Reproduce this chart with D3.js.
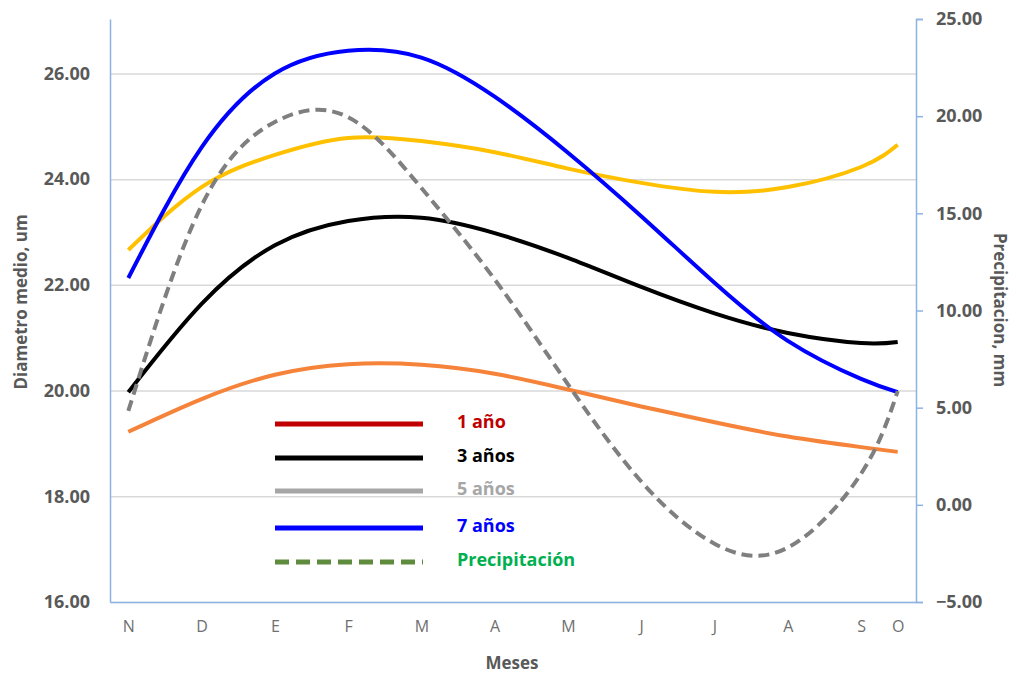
<!DOCTYPE html>
<html>
<head>
<meta charset="utf-8">
<script src="https://cdn.jsdelivr.net/npm/d3@7/dist/d3.min.js"></script>
<style>
  body { margin: 0; background: #fff; }
  svg { display: block; }
  text { font-family: "Open Sans", Lato, sans-serif; }
</style>
</head>
<body>
<svg id="chart" width="1016" height="675"></svg>
<script>
// months (x position of each label; last one sits half a step after S)
var months = ["N","D","E","F","M","A","M","J","J","A","S","O"];
var monthX = [0,1,2,3,4,5,6,7,8,9,10,10.5];

// diametro medio, um (left axis)
var uno   = [19.22,19.84,20.30,20.50,20.49,20.32,20.02,19.70,19.40,19.13,18.93,18.84];
var tres  = [19.97,21.64,22.75,23.21,23.27,22.98,22.51,21.96,21.46,21.09,20.90,20.92];
var cinco = [22.66,23.85,24.46,24.78,24.72,24.51,24.20,23.93,23.76,23.85,24.23,24.65];
var siete = [22.13,24.60,26.00,26.43,26.30,25.56,24.50,23.30,22.04,20.94,20.22,19.97];
// precipitacion, mm (right axis)
var precip = [4.83,15.4,19.7,19.95,16.3,11.6,6.2,1.2,-2.0,-2.2,1.6,5.85];

var leftTicks = [16,18,20,22,24,26];
var rightTicks = [-5,0,5,10,15,20,25];

var svg = d3.select("#chart");
var pLeft = 110, pRight = 916, pTop = 19, pBottom = 602;
var axisColor = "#8DB3E2", labelColor = "#595959";

var x = d3.scaleLinear().domain([-0.25, 10.75]).range([pLeft, pRight]);
var yL = d3.scaleLinear().domain([16, 27.03]).range([pBottom, pTop]);
var yR = d3.scaleLinear().domain([-5, 25]).range([pBottom, pTop]);

// gridlines
svg.append("g")
    .attr("transform", "translate(" + pLeft + ",0)")
    .call(d3.axisLeft(yL).tickValues(leftTicks).tickSize(-(pRight-pLeft)).tickFormat(""))
    .call(function(g){
      g.select(".domain").remove();
      g.selectAll("line").attr("stroke","#D9D9D9").attr("stroke-width",1.5);
    });

// left axis
var gl = svg.append("g")
    .attr("transform", "translate(" + pLeft + ",0)")
    .call(d3.axisLeft(yL).tickValues(leftTicks).tickSize(0).tickPadding(20).tickFormat(d3.format(".2f")));
gl.select(".domain").attr("stroke", axisColor).attr("stroke-width", 1.5);
gl.selectAll("text").attr("fill", labelColor).attr("font-size", 18).attr("font-weight", "bold");

// right axis
var gr = svg.append("g")
    .attr("transform", "translate(" + pRight + ",0)")
    .call(d3.axisRight(yR).tickValues(rightTicks).tickSizeOuter(0).tickSize(7).tickPadding(13).tickFormat(d3.format(".2f")));
gr.select(".domain").attr("stroke", axisColor).attr("stroke-width", 1.5);
gr.selectAll("line").attr("stroke", axisColor).attr("stroke-width", 1.5);
gr.selectAll("text").attr("fill", labelColor).attr("font-size", 18).attr("font-weight", "bold");

// bottom axis
var gb = svg.append("g")
    .attr("transform", "translate(0," + pBottom + ")")
    .call(d3.axisBottom(x).tickValues(monthX).tickSize(0).tickPadding(19)
      .tickFormat(function(d, i){ return months[i]; }));
gb.select(".domain").attr("stroke", axisColor).attr("stroke-width", 1.5);
gb.selectAll("text").attr("fill", "#6f6f6f").attr("font-size", 16);

// data lines
var lineL = d3.line().x(function(d, i){ return x(monthX[i]); }).y(function(d){ return yL(d); })
    .curve(d3.curveNatural);
var lineR = d3.line().x(function(d, i){ return x(monthX[i]); }).y(function(d){ return yR(d); })
    .curve(d3.curveNatural);

svg.append("path").attr("d", lineL(uno)).attr("fill","none").attr("stroke","#F5833A").attr("stroke-width",4);
svg.append("path").attr("d", lineL(tres)).attr("fill","none").attr("stroke","#000").attr("stroke-width",4);
svg.append("path").attr("d", lineL(cinco)).attr("fill","none").attr("stroke","#FFC000").attr("stroke-width",4);
svg.append("path").attr("d", lineL(siete)).attr("fill","none").attr("stroke","#0000FF").attr("stroke-width",4);
svg.append("path").attr("d", lineR(precip)).attr("fill","none").attr("stroke","#7F7F7F").attr("stroke-width",4)
    .attr("stroke-dasharray","11,6");

// legend
var legend = [
  {name:"1 año", line:"#C00000", text:"#C00000", dash:null},
  {name:"3 años", line:"#000000", text:"#000000", dash:null},
  {name:"5 años", line:"#A6A6A6", text:"#A6A6A6", dash:null},
  {name:"7 años", line:"#0000FF", text:"#0000FF", dash:null},
  {name:"Precipitación", line:"#5E8B3E", text:"#00B050", dash:"14,7"}
];
var legendY = [424, 458, 491, 528, 562];
var lg = svg.append("g");
legend.forEach(function(d, i){
  lg.append("line").attr("x1",275).attr("x2",423).attr("y1",legendY[i]).attr("y2",legendY[i])
    .attr("stroke", d.line).attr("stroke-width",5).attr("stroke-dasharray", d.dash);
  lg.append("text").attr("x",457).attr("y",legendY[i]-2).attr("dy","0.35em")
    .attr("fill", d.text).attr("font-size",18).attr("font-weight","bold").text(d.name);
});

// axis titles
svg.append("text").attr("x", 512).attr("y", 669).attr("text-anchor","middle")
  .attr("fill", labelColor).attr("font-size",17).attr("font-weight","bold").text("Meses");
svg.append("text").attr("transform","translate(27,302) rotate(-90)").attr("text-anchor","middle")
  .attr("fill", labelColor).attr("font-size",17).attr("font-weight","bold").text("Diametro medio, um");
svg.append("text").attr("transform","translate(994,310) rotate(90)").attr("text-anchor","middle")
  .attr("fill", labelColor).attr("font-size",17).attr("font-weight","bold").text("Precipitacion, mm");
</script>
</body>
</html>
